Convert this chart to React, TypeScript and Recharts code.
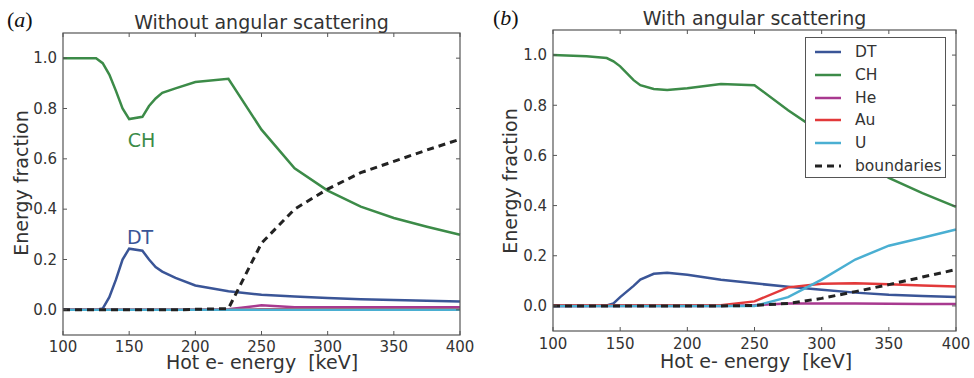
import { LineChart, Line, XAxis, YAxis, Legend, ReferenceDot } from "recharts"

// panel (a): without angular scattering
const energyA = [100, 125, 130, 135, 140, 145, 150, 160, 165, 170, 175, 185, 200, 225, 250, 275, 300, 325, 350, 375, 400]
const dtA = [0, 0, 0.005, 0.05, 0.12, 0.2, 0.243, 0.235, 0.2, 0.17, 0.152, 0.127, 0.097, 0.074, 0.06, 0.053, 0.047, 0.042, 0.039, 0.036, 0.033]
const chA = [1.0, 1.0, 0.98, 0.935, 0.87, 0.8, 0.758, 0.767, 0.81, 0.84, 0.862, 0.88, 0.905, 0.918, 0.716, 0.562, 0.474, 0.41, 0.365, 0.33, 0.298]
const heA = [0, 0, 0, 0, 0, 0, 0, 0, 0, 0, 0, 0, 0, 0.002, 0.018, 0.01, 0.01, 0.01, 0.01, 0.01, 0.01]
const auA = [0, 0, 0, 0, 0, 0, 0, 0, 0, 0, 0, 0, 0, 0, 0.002, 0.002, 0.002, 0.002, 0.002, 0.002, 0.002]
const uA = [0, 0, 0, 0, 0, 0, 0, 0, 0, 0, 0, 0, 0, 0, 0, 0, 0, 0, 0, 0, 0]
const boundA = [0, 0, 0, 0, 0, 0, 0, 0, 0, 0, 0, 0, 0.002, 0.005, 0.265, 0.4, 0.48, 0.545, 0.59, 0.635, 0.678]

// panel (b): with angular scattering
const energyB = [100, 125, 140, 145, 150, 160, 165, 175, 185, 200, 225, 250, 275, 300, 325, 350, 375, 400]
const dtB = [0, 0, 0.002, 0.01, 0.035, 0.08, 0.105, 0.128, 0.132, 0.124, 0.104, 0.09, 0.076, 0.064, 0.053, 0.045, 0.04, 0.036]
const chB = [1.0, 0.995, 0.988, 0.975, 0.955, 0.9, 0.88, 0.865, 0.861, 0.868, 0.885, 0.88, 0.78, 0.69, 0.6, 0.51, 0.45, 0.395]
const heB = [0, 0, 0, 0, 0, 0, 0, 0, 0, 0, 0, 0.003, 0.01, 0.01, 0.01, 0.009, 0.008, 0.008]
const auB = [0.003, 0.003, 0.003, 0.003, 0.003, 0.003, 0.003, 0.003, 0.003, 0.003, 0.003, 0.018, 0.074, 0.088, 0.09, 0.086, 0.081, 0.077]
const uB = [0, 0, 0, 0, 0, 0, 0, 0, 0, 0, 0, 0, 0.035, 0.105, 0.185, 0.24, 0.272, 0.305]
const boundB = [0, 0, 0, 0, 0, 0, 0, 0, 0, 0, 0, 0.002, 0.01, 0.03, 0.057, 0.085, 0.115, 0.145]

const xDomain = [100, 400]
const yDomain = [-0.1, 1.1]
const xTicks = [100, 150, 200, 250, 300, 350, 400]
const yTicks = [0, 0.2, 0.4, 0.6, 0.8, 1.0]
const seriesNames = ["DT", "CH", "He", "Au", "U", "boundaries"]

const colors: Record<string, string> = {
  DT: "#3a5597",
  CH: "#3c8b48",
  He: "#a8398f",
  Au: "#e2393a",
  U: "#4aafd2",
  boundaries: "#222222",
}

const TEXT = "#333333"
const FRAME = "#555555"

function pairs(xs: number[], ys: number[]) {
  return xs.map((x, i) => ({ x, y: ys[i] }))
}

// page-space plot boxes, used only for the matplotlib style frame and inward ticks
const boxA = { left: 63, top: 33, right: 460, bottom: 335 }
const boxB = { left: 553, top: 30, right: 956, bottom: 331 }

function Frame({ box }: { box: { left: number; top: number; right: number; bottom: number } }) {
  const sx = (v: number) => box.left + ((v - xDomain[0]) / (xDomain[1] - xDomain[0])) * (box.right - box.left)
  const sy = (v: number) => box.bottom - ((v - yDomain[0]) / (yDomain[1] - yDomain[0])) * (box.bottom - box.top)
  return (
    <g stroke={FRAME} fill="none">
      <rect x={box.left} y={box.top} width={box.right - box.left} height={box.bottom - box.top} strokeWidth={1.2} />
      {xTicks.map((t) => (
        <g key={"x" + t}>
          <line x1={sx(t)} x2={sx(t)} y1={box.bottom} y2={box.bottom - 4} />
          <line x1={sx(t)} x2={sx(t)} y1={box.top} y2={box.top + 4} />
        </g>
      ))}
      {yTicks.map((v) => (
        <g key={"y" + v}>
          <line x1={box.left} x2={box.left + 4} y1={sy(v)} y2={sy(v)} />
          <line x1={box.right} x2={box.right - 4} y1={sy(v)} y2={sy(v)} />
        </g>
      ))}
    </g>
  )
}

function LegendBox() {
  return (
    <div
      style={{
        border: "1px solid #555",
        background: "#fff",
        width: 141,
        height: 141,
        boxSizing: "border-box",
        paddingTop: 3,
        fontSize: 15.5,
        color: TEXT,
      }}
    >
      {seriesNames.map((name) => (
        <div key={name} style={{ display: "flex", alignItems: "center", height: 22.7 }}>
          <svg width={40} height={10} style={{ marginLeft: 9 }}>
            <line
              x1={0}
              x2={26}
              y1={5}
              y2={5}
              stroke={colors[name]}
              strokeWidth={name === "boundaries" ? 3 : 2.5}
              strokeDasharray={name === "boundaries" ? "7 5" : undefined}
            />
          </svg>
          <span>{name}</span>
        </div>
      ))}
    </div>
  )
}

type PanelProps = {
  energy: number[]
  values: number[][]
  width: number
  top: number
  right: number
  xAxisHeight: number
  tickGap: number
  legend?: boolean
  notes?: { text: string; x: number; y: number; color: string }[]
}

function Panel({ energy, values, width, top, right, xAxisHeight, tickGap, legend, notes }: PanelProps) {
  const tick = { fontSize: 15, fill: TEXT }
  return (
    <LineChart width={width} height={378} margin={{ top, right, left: 0, bottom: 0 }}>
      <XAxis
        type="number"
        dataKey="x"
        domain={xDomain}
        ticks={xTicks}
        height={xAxisHeight}
        tick={tick}
        axisLine={false}
        tickLine={false}
        tickSize={0}
        tickMargin={tickGap}
      />
      <YAxis
        type="number"
        domain={yDomain}
        ticks={yTicks}
        width={63}
        tick={tick}
        axisLine={false}
        tickLine={false}
        tickSize={0}
        tickMargin={6}
        tickFormatter={(v: number) => v.toFixed(1)}
      />
      {seriesNames.map((name, i) => (
        <Line
          key={name}
          name={name}
          data={pairs(energy, values[i])}
          dataKey="y"
          type="linear"
          stroke={colors[name]}
          strokeWidth={name === "boundaries" ? 3 : 2.5}
          strokeDasharray={name === "boundaries" ? "7 5" : undefined}
          dot={false}
          isAnimationActive={false}
        />
      ))}
      {(notes || []).map((n) => (
        <ReferenceDot
          key={n.text}
          x={n.x}
          y={n.y}
          r={0}
          fill="none"
          stroke="none"
          label={{ value: n.text, position: "center", fill: n.color, fontSize: 19 }}
        />
      ))}
      {legend && (
        <Legend
          layout="vertical"
          align="center"
          verticalAlign="middle"
          wrapperStyle={{ left: 315, top: 37, width: 141, height: 141 }}
          content={() => <LegendBox />}
        />
      )}
    </LineChart>
  )
}

export default function App() {
  return (
    <div
      style={{
        position: "absolute",
        left: 0,
        top: 0,
        width: 974,
        height: 378,
        background: "#fff",
        fontFamily: "'DejaVu Sans', sans-serif",
      }}
    >
      <div style={{ position: "absolute", left: 0, top: 0 }}>
        <Panel
          energy={energyA}
          values={[dtA, chA, heA, auA, uA, boundA]}
          width={480}
          top={33}
          right={20}
          xAxisHeight={43}
          tickGap={6}
          notes={[
            { text: "CH", x: 159.3, y: 0.673, color: colors.CH },
            { text: "DT", x: 158.2, y: 0.29, color: colors.DT },
          ]}
        />
      </div>
      <div style={{ position: "absolute", left: 490, top: 0 }}>
        <Panel
          energy={energyB}
          values={[dtB, chB, heB, auB, uB, boundB]}
          width={484}
          top={30}
          right={18}
          xAxisHeight={47}
          tickGap={7}
          legend
        />
      </div>
      <svg width={974} height={378} style={{ position: "absolute", left: 0, top: 0, pointerEvents: "none" }}>
        <Frame box={boxA} />
        <Frame box={boxB} />
        <text x={7} y={27} fontFamily="'Liberation Serif', serif" fontSize={22} fill="#111">
          (<tspan fontStyle="italic">a</tspan>)
        </text>
        <text x={493} y={25} fontFamily="'Liberation Serif', serif" fontSize={22} fill="#111">
          (<tspan fontStyle="italic">b</tspan>)
        </text>
        <text x={261.5} y={28.5} textAnchor="middle" fontSize={19} fill={TEXT}>
          Without angular scattering
        </text>
        <text x={754.5} y={25} textAnchor="middle" fontSize={19} fill={TEXT}>
          With angular scattering
        </text>
        <text x={262} y={369} textAnchor="middle" fontSize={19} fill={TEXT} style={{ whiteSpace: "pre" }}>
          {"Hot e- energy  [keV]"}
        </text>
        <text x={756} y={368} textAnchor="middle" fontSize={19} fill={TEXT} style={{ whiteSpace: "pre" }}>
          {"Hot e- energy  [keV]"}
        </text>
        <text x={28} y={183} textAnchor="middle" fontSize={19} fill={TEXT} transform="rotate(-90 28 183)">
          Energy fraction
        </text>
        <text x={517} y={181} textAnchor="middle" fontSize={19} fill={TEXT} transform="rotate(-90 517 181)">
          Energy fraction
        </text>
      </svg>
    </div>
  )
}
